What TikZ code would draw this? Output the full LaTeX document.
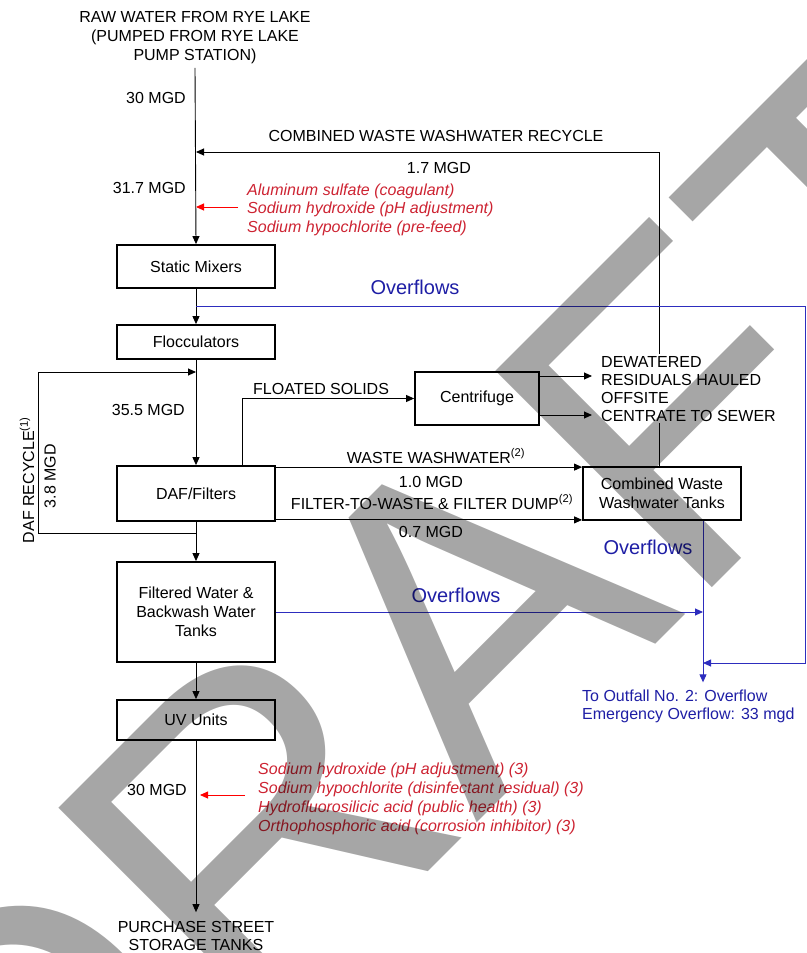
\documentclass[tikz,border=0pt]{standalone}
\usepackage{fontspec}
\setmainfont{Liberation Sans}
\newfontfamily\wmfont{Liberation Sans}[Kerning=Off]
\usetikzlibrary{arrows.meta}
\definecolor{chemred}{RGB}{205,35,50}
\definecolor{ovblue}{RGB}{30,30,165}
\definecolor{lineblue}{RGB}{45,45,190}
\begin{document}
\begin{tikzpicture}[x=1pt,y=-1pt,
  every node/.style={font=\fontsize{16}{19}\selectfont},
  box/.style={draw, line width=1.8pt, minimum width=158pt, inner sep=0pt, align=center},
  lbl/.style={inner sep=0pt},
  arr/.style={line width=0.9pt, -{Triangle[length=8pt,width=7pt]}},
  redarr/.style={draw=red, line width=0.9pt, -{Triangle[length=8pt,width=7pt]}},
  bluearr/.style={draw=lineblue, line width=0.9pt, -{Triangle[length=8pt,width=7pt]}},
  chem/.style={inner sep=0pt, text=chemred, align=left},
  ovtext/.style={inner sep=0pt, text=ovblue, font=\fontsize{20}{24}\selectfont},
]
\useasboundingbox (0,0) rectangle (806,953);

% main chain
\node[lbl, align=center] (title) at (195,37.5) {RAW WATER FROM RYE LAKE\\(PUMPED FROM RYE LAKE\\PUMP STATION)};
\node[box, minimum height=43pt] (static) at (196,266.5) {Static Mixers};
\node[box, minimum height=34pt] (floc) at (196,342) {Flocculators};
\node[box, minimum height=55pt] (daf) at (196,493.5) {DAF/Filters};
\node[box, minimum height=100pt] (filt) at (196,612) {Filtered Water \&\\Backwash Water\\Tanks};
\node[box, minimum height=40pt] (uv) at (196,720) {UV Units};
\node[lbl, align=center, font=\fontsize{16}{18}\selectfont] (purch) at (196,936) {PURCHASE STREET\\STORAGE TANKS};
\node[box, minimum width=124pt, minimum height=53pt] (centri) at (477,398.5) {Centrifuge};
\node[box, minimum width=158pt, minimum height=53pt] (comb) at (662,493.5) {Combined Waste\\Washwater Tanks};

% labels
\node[lbl, anchor=east] (q30a) at (186,98) {30 MGD};
\node[lbl, anchor=east] (q317) at (186,188) {31.7 MGD};
\node[lbl, anchor=east] (q355) at (185,410) {35.5 MGD};
\node[lbl, anchor=east] (q30b) at (187,790) {30 MGD};
\node[lbl] (recyc) at (436,136) {COMBINED WASTE WASHWATER RECYCLE};
\node[lbl] (q17) at (439,168) {1.7 MGD};
\node[lbl, anchor=west] (floated) at (253,389) {FLOATED SOLIDS};
\node[lbl, rotate=90] (dafrec) at (27,480) {DAF RECYCLE\textsuperscript{(1)}};
\node[lbl, rotate=90] (q38) at (50,476) {3.8 MGD};
\node[lbl] (wwlbl) at (436,456) {WASTE WASHWATER\textsuperscript{(2)}};
\node[lbl] (q10) at (431,482) {1.0 MGD};
\node[lbl] (ftwlbl) at (432,502) {FILTER-TO-WASTE \& FILTER DUMP\textsuperscript{(2)}};
\node[lbl] (q07) at (431,532) {0.7 MGD};
\node[ovtext] (ov1) at (415,287) {Overflows};
\node[ovtext] (ov2) at (648,547) {Overflows};
\node[ovtext] (ov3) at (456,595) {Overflows};
\node[anchor=west, inner xsep=0pt, inner ysep=7pt, text=ovblue, align=left, font=\fontsize{16}{18}\selectfont] (outfall) at (582,706) {To Outfall No. 2: Overflow\\Emergency Overflow: 33 mgd};
\node[chem, anchor=west, font=\fontsize{16}{18.5}\selectfont\itshape] (chem1) at (247,209.5) {Aluminum sulfate (coagulant)\\Sodium hydroxide (pH adjustment)\\Sodium hypochlorite (pre-feed)};
\node[chem, anchor=west, font=\fontsize{16}{19}\selectfont\itshape] (chem2) at (258,798.5) {Sodium hydroxide (pH adjustment) (3)\\Sodium hypochlorite (disinfectant residual) (3)\\Hydrofluorosilicic acid (public health) (3)\\Orthophosphoric acid (corrosion inhibitor) (3)};

% recycle line (drawn before the residuals text, which hides part of it)
\coordinate (rcTop) at (659,152);
\draw[arr] ([xshift=-3pt]comb.north) -- (rcTop) -- (rcTop -| static.north);
\node[anchor=north west, fill=white, inner xsep=0pt, inner ysep=2pt, align=left, font=\fontsize{16}{18}\selectfont] (resid) at (601,354) {DEWATERED\\RESIDUALS HAULED\\OFFSITE\\CENTRATE TO SEWER};

% connectors
\draw[arr] ([yshift=-4pt]title.south) -- (static.north);
\coordinate (c1) at ([xshift=-9pt,yshift=2.5pt]chem1.west);
\draw[redarr] (c1) -- (c1 -| static.north);
\draw[arr] (static.south) -- (floc.north);
\draw[arr] (floc.south) -- (daf.north);
\draw[arr] (daf.south) -- (filt.north);
\draw[arr] (filt.south) -- (uv.north);
\draw[arr] (uv.south) -- ([yshift=9pt]purch.north);
\coordinate (c2) at ([xshift=-13pt,yshift=3.5pt]chem2.west);
\coordinate (c2t) at (200,795);
\draw[redarr] (c2) -- (c2t);

% DAF recycle
\coordinate (drB) at (196,533);
\coordinate (drL1) at (38,533);
\coordinate (drL2) at (38,372);
\draw[arr] (drB) -- (drL1) -- (drL2) -- (drL2 -| floc.south);

% floated solids
\draw[arr] ([xshift=46pt]daf.north) |- (centri.west);
\coordinate (rw) at ([xshift=-9pt]resid.west);
\coordinate (ce1) at ([yshift=22.5pt]centri.east);
\coordinate (ce2) at ([yshift=-16.5pt]centri.east);
\draw[arr] (ce1) -- (ce1 -| rw);
\draw[arr] (ce2) -- (ce2 -| rw);

% waste washwater
\coordinate (w1) at ([yshift=-2pt]daf.north east);
\coordinate (w2) at ([yshift=2pt]daf.south east);
\draw[arr] (w1) -- (w1 -| comb.west);
\draw[arr] (w2) -- (w2 -| comb.west);

% overflows
\coordinate (outTop) at ([xshift=41pt]comb.south);
\coordinate (ovA) at (196,306);
\coordinate (ovB) at (805,306);
\coordinate (ovC) at (805,663);
\draw[bluearr] (ovA) -- (ovB) -- (ovC) -- (ovC -| outTop);
\draw[bluearr] (outTop) -- (outTop |- outfall.north);
\draw[bluearr] (filt.east) -- (filt.east -| outTop);

% watermark
\node[rotate=45, anchor=base west, inner sep=0pt, text=black, text opacity=0.35, font=\wmfont\fontsize{445}{445}\selectfont] (wm) at (22,1278) {DRAFT};
\end{tikzpicture}
\end{document}
